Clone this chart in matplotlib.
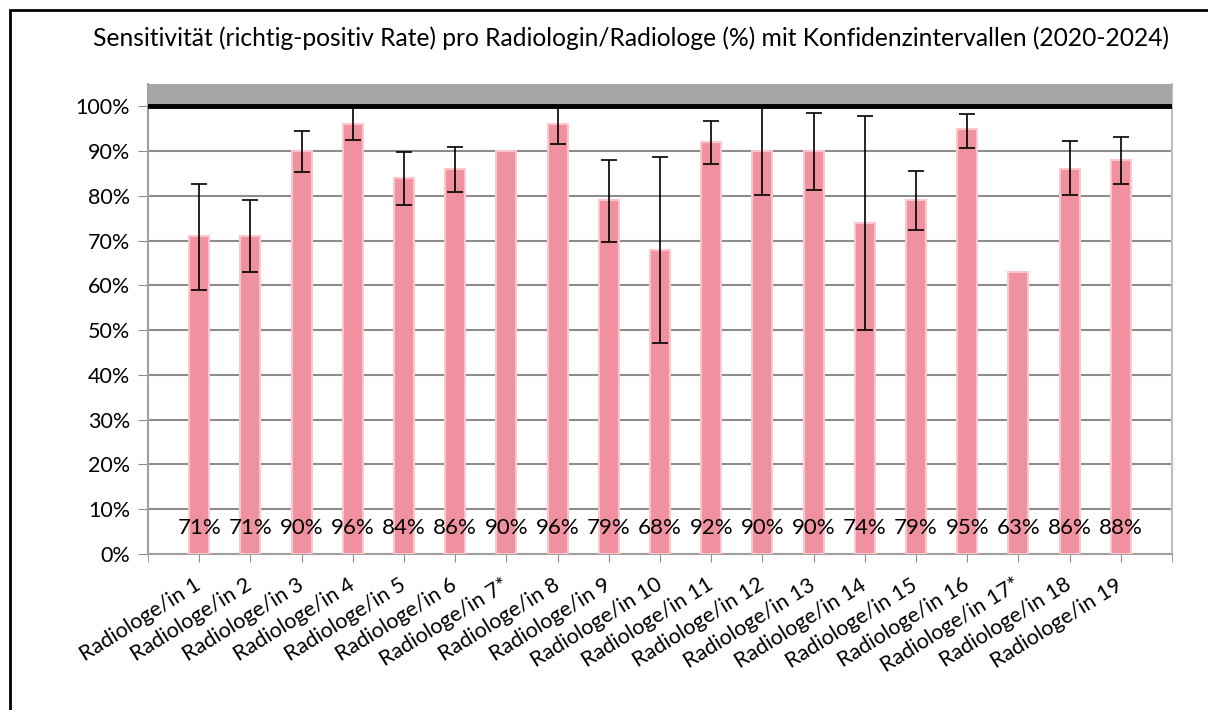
import numpy as np
import matplotlib.pyplot as plt
from matplotlib.patches import Rectangle

plt.rcParams['font.family'] = ['Lato', 'DejaVu Sans']

labels = ["Radiologe/in 1", "Radiologe/in 2", "Radiologe/in 3", "Radiologe/in 4",
          "Radiologe/in 5", "Radiologe/in 6", "Radiologe/in 7*", "Radiologe/in 8",
          "Radiologe/in 9", "Radiologe/in 10", "Radiologe/in 11", "Radiologe/in 12",
          "Radiologe/in 13", "Radiologe/in 14", "Radiologe/in 15", "Radiologe/in 16",
          "Radiologe/in 17*", "Radiologe/in 18", "Radiologe/in 19"]
sens = [71, 71, 90, 96, 84, 86, 90, 96, 79, 68, 92, 90, 90, 74, 79, 95, 63, 86, 88]
ci_low = [59, 63, 85.3, 92.4, 78, 80.9, np.nan, 91.6, 69.7, 47.1, 87.1, 80.2,
          81.3, 50, 72.3, 90.7, np.nan, 80.3, 82.6]
ci_high = [82.6, 79.1, 94.6, 100, 89.9, 90.9, np.nan, 100, 88, 88.8, 96.7, 100,
           98.6, 97.8, 85.6, 98.4, np.nan, 92.3, 93.2]

sens = np.array(sens, dtype=float)
ci_low = np.array(ci_low)
ci_high = np.array(ci_high)
x = np.arange(len(labels))

W, H = 1208, 710
fig = plt.figure(figsize=(W / 100, H / 100), dpi=100)

# frame round the whole chart (right and bottom edges fall outside the picture)
fig.patches.append(Rectangle((10 / W, -0.1), 1.5, (H - 10) / H + 0.1, transform=fig.transFigure,
                             fill=False, edgecolor='black', linewidth=2))

ax = fig.add_axes([148 / W, (H - 554) / H, (1172 - 148) / W, (554 - 84) / H])

ax.bar(x, sens, width=0.39, color='#ef919e', edgecolor='#fbc6cc', linewidth=1.5, zorder=3)

ok = ~np.isnan(ci_low)
yerr = np.vstack([sens[ok] - ci_low[ok], ci_high[ok] - sens[ok]])
ax.errorbar(x[ok], sens[ok], yerr=yerr, fmt='none', ecolor='black', elinewidth=1.2,
            capsize=6, capthick=1.2, zorder=4)

# grey band and thick line at 100 %
ax.axhspan(100, 105, color='#a6a6a6', zorder=5, linewidth=0)
ax.axhline(100, color='black', linewidth=3.5, zorder=6)

for xi, v in zip(x, sens):
    ax.text(xi, 5.8, "%d%%" % v, ha='center', va='center', fontsize=16, zorder=7)

ax.set_xlim(-1, 19)
ax.set_ylim(0, 105)
ax.set_yticks(np.arange(0, 101, 10))
ax.set_yticklabels(["%d%%" % t for t in range(0, 101, 10)], fontsize=15.5)
ax.set_xticks(x)
ax.set_xticklabels(labels, rotation=32, ha='right', va='center', rotation_mode='anchor',
                   fontsize=15.5)
ax.set_xticks([-1, 19], minor=True)
ax.tick_params(axis='x', which='both', length=6, color='#8c8c8c', pad=15)
ax.tick_params(axis='y', length=7, color='#8c8c8c', pad=6)

ax.yaxis.grid(True, color='#8c8c8c', linewidth=1.5, zorder=0)
ax.set_axisbelow(True)
for s in ['left', 'bottom']:
    ax.spines[s].set_color('#a0a0a0')
    ax.spines[s].set_linewidth(1.5)
ax.spines['right'].set_color('#bfbfbf')
ax.spines['right'].set_linewidth(1.5)
ax.spines['top'].set_visible(False)

fig.text(631 / W, 1 - 38 / H,
         "Sensitivität (richtig-positiv Rate) pro Radiologin/Radiologe (%) mit Konfidenzintervallen (2020-2024)",
         ha='center', va='center', fontsize=17.7)

fig.savefig("out.png", dpi=100)
